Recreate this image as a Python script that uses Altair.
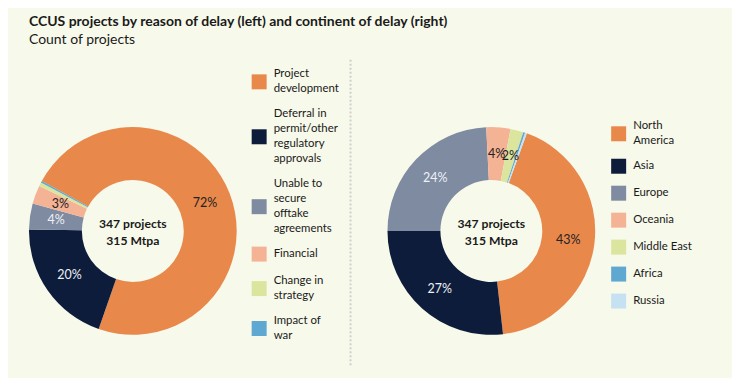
import math
import altair as alt
import pandas as pd

# ---------------- data ----------------
reasons = [
    "Project development",
    "Deferral in permit/other regulatory approvals",
    "Unable to secure offtake agreements",
    "Financial",
    "Change in strategy",
    "Impact of war",
]
reason_lines = [
    ["Project", "development"],
    ["Deferral in", "permit/other", "regulatory", "approvals"],
    ["Unable to", "secure", "offtake", "agreements"],
    ["Financial"],
    ["Change in", "strategy"],
    ["Impact of", "war"],
]
reason_counts = [251, 69, 14, 10, 2, 1]

continents = ["North America", "Asia", "Europe", "Oceania", "Middle East", "Africa", "Russia"]
continent_lines = [["North", "America"], ["Asia"], ["Europe"], ["Oceania"], ["Middle East"], ["Africa"], ["Russia"]]
continent_counts = [148, 93, 84, 13, 7, 1, 1]

total_mtpa = 315

title_text = "CCUS projects by reason of delay (left) and continent of delay (right)"
subtitle_text = "Count of projects"

# ---------------- style ----------------
BG = "#F7F9EA"
FONT = "Lato"
palette = ["#E8894B", "#0D1C3B", "#7E8BA1", "#F4B394", "#DCE59E", "#5EA8D1", "#C6E1F1"]
light_text = "#EEF1F5"
dark_text = "#222222"

R_OUT, R_IN, R_LAB = 104, 51, 77.5
W, H = 208, 260
LEG_FS, LEG_LH = 11.4, 15
SYM = 225  # 15 px square


def label_expr(cats, lines):
    expr = "datum.label"
    for c, ln in reversed(list(zip(cats, lines))):
        arr = "[" + ",".join("'" + s + "'" for s in ln) + "]"
        expr = f"datum.label == '{c}' ? {arr} : ({expr})"
    return expr


def centred_square(n_lines):
    # square symbol shifted down so it sits at the middle of a multi-line label
    u = (n_lines - 1) * LEG_LH / 2 / (math.sqrt(SYM) / 2)
    return f"M-1,{-1 + u:.3f}L1,{-1 + u:.3f}L1,{1 + u:.3f}L-1,{1 + u:.3f}Z"


def donut(field, cats, counts, lines, start_deg, light_cats, lx, ly):
    df = pd.DataFrame({field: cats, "count": counts, "idx": list(range(len(cats)))})
    start = math.radians(start_deg)
    theta = alt.Theta("count:Q", stack=True,
                      scale=alt.Scale(range=[start, start + 2 * math.pi]))
    legend = alt.Legend(
        title=None, orient="none", legendX=lx, legendY=ly,
        symbolSize=SYM, symbolStrokeWidth=0, symbolOpacity=1,
        labelFont=FONT, labelFontSize=LEG_FS, labelColor="#1a1a1a",
        labelExpr=label_expr(cats, lines), labelLimit=200,
        labelOffset=7, rowPadding=12, padding=0,
    )
    color = alt.Color(f"{field}:N", scale=alt.Scale(domain=cats, range=palette[:len(cats)]),
                      sort=cats, legend=legend)
    shape = alt.Shape(f"{field}:N",
                      scale=alt.Scale(domain=cats, range=[centred_square(len(l)) for l in lines]),
                      sort=cats, legend=legend)
    base = alt.Chart(df).encode(theta=theta, order=alt.Order("idx:Q"))
    arcs = base.mark_arc(outerRadius=R_OUT, innerRadius=R_IN).encode(color=color)
    keys = alt.Chart(df).transform_filter("false").mark_point(
        filled=True, opacity=1, strokeWidth=0).encode(color=color, shape=shape)
    txt = base.mark_text(radius=R_LAB, font=FONT, fontSize=12.5).transform_joinaggregate(
        total="sum(count)"
    ).transform_calculate(
        pct="datum.count / datum.total * 100",
        lab="datum.pct >= 1.5 ? format(datum.pct, '.0f') + '%' : ''",
    ).encode(
        text="lab:N",
        color=alt.condition(
            alt.FieldOneOfPredicate(field=field, oneOf=light_cats),
            alt.value(light_text), alt.value(dark_text)),
    )
    center_df = pd.DataFrame({"t": [f"{sum(counts)} projects\n{total_mtpa} Mtpa"]})
    center = alt.Chart(center_df).mark_text(
        font=FONT, fontSize=12.2, fontWeight="bold", color="#1a1a1a",
        lineBreak="\n", lineHeight=17, baseline="middle", dy=-7
    ).encode(text="t:N")
    return alt.layer(arcs, keys, txt, center).properties(width=W, height=H)


left = donut("reason", reasons, reason_counts, reason_lines, -61.2,
             [reasons[1], reasons[2]], 223, -34.3)
right = donut("continent", continents, continent_counts, continent_lines, 20.0,
              [continents[1], continents[2]], 224, 17.7)

sep = alt.Chart(pd.DataFrame({"a": [0]})).mark_rule(
    color="#CFCFCF", strokeDash=[2, 2], strokeWidth=2
).encode(x=alt.value(114), y=alt.value(-41.5), y2=alt.value(265.5)).properties(width=151, height=H)

chart = alt.hconcat(left, sep, right, spacing=0, bounds="flush").resolve_scale(
    color="independent", theta="independent", shape="independent"
).properties(
    title=alt.TitleParams(
        text=title_text, subtitle=subtitle_text, anchor="start",
        font=FONT, fontSize=14, fontWeight="bold", color="#1a1a1a",
        subtitleFont=FONT, subtitleFontSize=14, subtitleColor="#1a1a1a",
        subtitlePadding=4, offset=12,
    ),
    background=BG,
    padding={"left": 21, "top": 6, "right": 40, "bottom": 10},
).configure(
    style={"guide-label": {"lineHeight": LEG_LH}},
    view=alt.ViewConfig(strokeWidth=0, stroke=None),
)

chart.save("out.html", embed_options={"renderer": "svg", "actions": False})
